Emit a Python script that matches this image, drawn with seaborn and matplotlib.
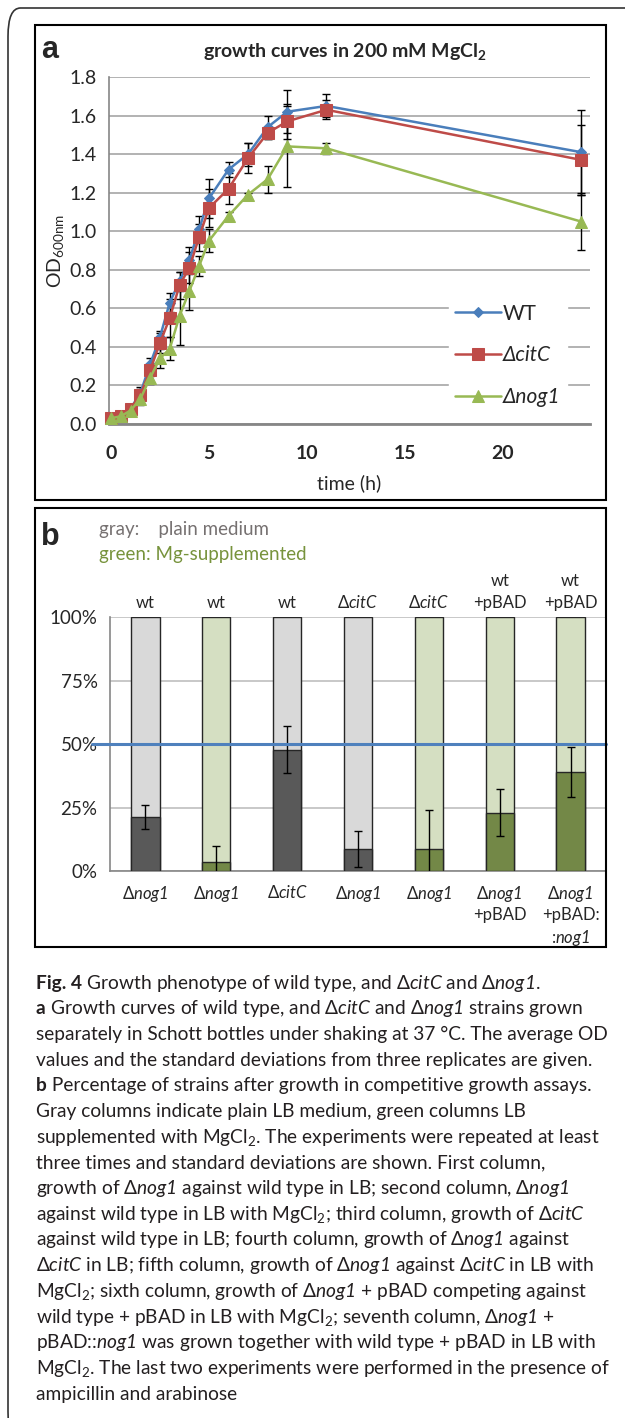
import matplotlib
matplotlib.use("Agg")
import matplotlib.pyplot as plt
from matplotlib.patches import Rectangle, FancyBboxPatch
import pandas as pd
import seaborn as sns

# ---- panel a: growth curves in 200 mM MgCl2 ----
TIME = [0, 0.5, 1, 1.5, 2, 2.5, 3, 3.5, 4, 4.5, 5, 6, 7, 8, 9, 11, 24]
OD_WT = [0.03, 0.04, 0.08, 0.16, 0.31, 0.45, 0.63, 0.74, 0.85, 1.01, 1.17, 1.32, 1.40, 1.54, 1.62, 1.65, 1.41]
OD_CITC = [0.03, 0.04, 0.08, 0.15, 0.28, 0.42, 0.55, 0.72, 0.81, 0.97, 1.12, 1.22, 1.38, 1.51, 1.57, 1.63, 1.37]
OD_NOG1 = [0.03, 0.04, 0.07, 0.13, 0.24, 0.34, 0.39, 0.56, 0.69, 0.82, 0.95, 1.08, 1.19, 1.27, 1.44, 1.43, 1.05]
ERR_WT = [0.01, 0.01, 0.02, 0.03, 0.03, 0.03, 0.05, 0.05, 0.07, 0.07, 0.10, 0.04, 0.06, 0.06, 0.11, 0.06, 0.22]
ERR_CITC = [0.01, 0.01, 0.02, 0.03, 0.03, 0.05, 0.10, 0.07, 0.08, 0.07, 0.10, 0.08, 0.08, 0.03, 0.09, 0.05, 0.18]
ERR_NOG1 = [0.01, 0.01, 0.02, 0.03, 0.03, 0.05, 0.06, 0.15, 0.10, 0.05, 0.06, 0.02, 0.01, 0.07, 0.21, 0.03, 0.15]
STRAINS = ["WT", "ΔcitC", "Δnog1"]

# ---- panel b: competitive growth ----
COL_IDS = ["1", "2", "3", "4", "5", "6", "7"]
TOP_LABELS = ["wt", "wt", "wt", "Δ$\\mathsf{citC}$", "Δ$\\mathsf{citC}$", "wt\n+pBAD", "wt\n+pBAD"]
BOTTOM_LABELS = ["Δ$\\mathsf{nog1}$", "Δ$\\mathsf{nog1}$", "Δ$\\mathsf{citC}$", "Δ$\\mathsf{nog1}$",
                 "Δ$\\mathsf{nog1}$", "Δ$\\mathsf{nog1}$\n+pBAD", "Δ$\\mathsf{nog1}$\n+pBAD:\n:$\\mathsf{nog1}$"]
MEDIUM = ["plain", "Mg", "plain", "plain", "Mg", "Mg", "Mg"]
PCT = [21.2, 3.5, 47.8, 8.5, 8.8, 23, 39]
PCT_ERR = [4.6, 6.2, 9.2, 7.1, 15.2, 9.4, 10]
PCT_TICKS = [0, 25, 50, 75, 100]

# caption: (bold lead, rest of line)
CAPTION = [
    ("Fig. 4", r" Growth phenotype of wild type, and Δ$\mathsf{citC}$ and Δ$\mathsf{nog1}$."),
    ("a", r" Growth curves of wild type, and Δ$\mathsf{citC}$ and Δ$\mathsf{nog1}$ strains grown"),
    ("", "separately in Schott bottles under shaking at 37 °C. The average OD"),
    ("", "values and the standard deviations from three replicates are given."),
    ("b", " Percentage of strains after growth in competitive growth assays."),
    ("", "Gray columns indicate plain LB medium, green columns LB"),
    ("", r"supplemented with MgCl$_2$. The experiments were repeated at least"),
    ("", "three times and standard deviations are shown. First column,"),
    ("", r"growth of Δ$\mathsf{nog1}$ against wild type in LB; second column, Δ$\mathsf{nog1}$"),
    ("", r"against wild type in LB with MgCl$_2$; third column, growth of Δ$\mathsf{citC}$"),
    ("", r"against wild type in LB; fourth column, growth of Δ$\mathsf{nog1}$ against"),
    ("", r"Δ$\mathsf{citC}$ in LB; fifth column, growth of Δ$\mathsf{nog1}$ against Δ$\mathsf{citC}$ in LB with"),
    ("", r"MgCl$_2$; sixth column, growth of Δ$\mathsf{nog1}$ + pBAD competing against"),
    ("", r"wild type + pBAD in LB with MgCl$_2$; seventh column, Δ$\mathsf{nog1}$ +"),
    ("", r"pBAD::$\mathsf{nog1}$ was grown together with wild type + pBAD in LB with"),
    ("", r"MgCl$_2$. The last two experiments were performed in the presence of"),
    ("", "ampicillin and arabinose"),
]

sns.set_style("white")
plt.rcParams["font.family"] = ["Lato", "DejaVu Sans"]
plt.rcParams["mathtext.fontset"] = "custom"
plt.rcParams["mathtext.rm"] = "Lato"
plt.rcParams["mathtext.it"] = "Lato:italic"
plt.rcParams["mathtext.sf"] = "Lato:italic"   # italic incl. digits
plt.rcParams["mathtext.bf"] = "Lato:bold"

W, H = 625, 1418
fig = plt.figure(figsize=(W / 100, H / 100), dpi=100)


def fx(x):
    return x / W


def fy(y):
    return 1 - y / H


def box(x0, y0, x1, y1, lw=1.5):
    fig.patches.append(Rectangle((fx(x0), fy(y1)), fx(x1 - x0), (y1 - y0) / H,
                                 transform=fig.transFigure, fill=False, lw=lw, ec="black"))


# outer frame and panel frames
fig.patches.append(FancyBboxPatch((fx(8), fy(1440)), fx(700), 1432 / H,
                                  boxstyle="round,pad=0,rounding_size=0.02",
                                  transform=fig.transFigure, fill=False, lw=1.2, ec="#333333"))
box(35, 25, 606, 500)
box(35, 508, 606, 947)

# ---------- panel a ----------
axa = fig.add_axes([fx(109), fy(424), fx(590 - 109), (424 - 77) / H])
colors = {"WT": "#4A7EBB", "ΔcitC": "#BE4B48", "Δnog1": "#98B954"}
markers = {"WT": ("D", 5.5), "ΔcitC": ("s", 8), "Δnog1": ("^", 8)}
series = {"WT": (OD_WT, ERR_WT), "ΔcitC": (OD_CITC, ERR_CITC), "Δnog1": (OD_NOG1, ERR_NOG1)}

for s in STRAINS:
    od, err = series[s]
    axa.errorbar(TIME, od, yerr=err, fmt="none", ecolor="black", elinewidth=1,
                 capsize=3, capthick=1, zorder=2)
for s in STRAINS:
    od, err = series[s]
    m, ms = markers[s]
    sns.lineplot(x=TIME, y=od, ax=axa, color=colors[s], lw=1.8, marker=m, markersize=ms,
                 markeredgecolor=colors[s], label=s, zorder=3, clip_on=False)

axa.set_xlim(-0.1, 24.45)
axa.set_ylim(0, 1.8)
axa.set_xticks([0, 5, 10, 15, 20])
axa.set_yticks([0, 0.2, 0.4, 0.6, 0.8, 1.0, 1.2, 1.4, 1.6, 1.8])
axa.set_yticklabels([f"{v:.1f}" for v in axa.get_yticks()], fontsize=14)
axa.set_xticklabels(["0", "5", "10", "15", "20"], fontsize=14, fontweight="bold")
axa.yaxis.grid(True, color="#A6A6A6", lw=1.2)
axa.set_axisbelow(True)
for sp in ["top", "right"]:
    axa.spines[sp].set_visible(False)
axa.spines["left"].set_color("#868686")
axa.spines["left"].set_linewidth(1.2)
axa.spines["bottom"].set_color("#868686")
axa.spines["bottom"].set_linewidth(2)
axa.tick_params(axis="y", direction="out", length=5, color="#868686", pad=4)
axa.tick_params(axis="x", direction="out", length=5, color="#868686", pad=10)
axa.set_xlabel("time (h)", fontsize=14, labelpad=9)
axa.set_ylabel(r"OD$_\mathrm{600nm}$", fontsize=14, labelpad=2)

leg = axa.legend(loc="upper left", bbox_to_anchor=(0.685, 0.395), frameon=True, fontsize=15,
                 handlelength=2.2, handletextpad=0.1, labelspacing=1.05, borderpad=0.3)
leg.get_frame().set_facecolor("white")
leg.get_frame().set_edgecolor("white")
leg.get_frame().set_alpha(1)
for t in leg.get_texts()[1:]:
    t.set_fontstyle("italic")

fig.text(fx(345), fy(52), r"growth curves in 200 mM MgCl$_\mathbf{2}$", ha="center", va="center",
         fontsize=14, fontweight="bold")
fig.text(fx(41), fy(50), "a", ha="left", va="center", fontsize=22, fontweight="bold",
         family="Liberation Sans")

# ---------- panel b ----------
axb = fig.add_axes([fx(110), fy(871), fx(606 - 110), (871 - 617) / H])
df_b = pd.DataFrame({"col": COL_IDS, "medium": MEDIUM, "pct": PCT, "full": [100] * len(PCT)})
sns.barplot(data=df_b, x="col", y="full", hue="medium", order=COL_IDS, dodge=False, width=0.4,
            palette={"plain": "#D9D9D9", "Mg": "#D7E4BD"}, edgecolor="#262626", linewidth=1,
            errorbar=None, legend=False, ax=axb, zorder=2)
sns.barplot(data=df_b, x="col", y="pct", hue="medium", order=COL_IDS, dodge=False, width=0.4,
            palette={"plain": "#595959", "Mg": "#77933C"}, edgecolor="#262626", linewidth=1,
            errorbar=None, legend=False, ax=axb, zorder=3)
axb.errorbar(range(len(PCT)), PCT, yerr=PCT_ERR, fmt="none", ecolor="black", elinewidth=1,
             capsize=3, capthick=1, zorder=4)
axb.axhline(50, xmin=-0.037, xmax=1, color="#4F81BD", lw=2.2, clip_on=False, zorder=6)

axb.set_xlim(-0.5, 6.5)
axb.set_ylim(0, 100)
axb.set_yticks(PCT_TICKS)
axb.set_yticklabels([f"{v}%" for v in PCT_TICKS], fontsize=13.5)
axb.set_xticks(range(len(BOTTOM_LABELS)))
axb.set_xticklabels(BOTTOM_LABELS, fontsize=12, va="top", linespacing=1.3)
axb.set_xticks([i - 0.5 for i in range(len(PCT) + 1)], minor=True)
axb.tick_params(axis="x", which="major", length=0, pad=9)
axb.tick_params(axis="x", which="minor", length=5, direction="out", color="#868686")
axb.tick_params(axis="y", length=5, direction="out", color="#868686", pad=4)
axb.yaxis.grid(True, color="#BFBFBF", lw=1.2)
axb.set_axisbelow(True)
axb.set_xlabel("")
axb.set_ylabel("")
for sp in ["top", "right"]:
    axb.spines[sp].set_visible(False)
axb.spines["left"].set_color("#868686")
axb.spines["bottom"].set_color("#868686")
axb.spines["left"].set_linewidth(1.2)
axb.spines["bottom"].set_linewidth(1.2)

for i, lab in enumerate(TOP_LABELS):
    axb.text(i, 102.5, lab, ha="center", va="bottom", fontsize=12, linespacing=1.45)

fig.text(fx(41), fy(537), "b", ha="left", va="center", fontsize=22, fontweight="bold",
         family="Liberation Sans")
fig.text(fx(99), fy(529), "gray:    plain medium", ha="left", va="center", fontsize=13.5, color="#767171")
fig.text(fx(99), fy(554), "green: Mg-supplemented", ha="left", va="center", fontsize=13.5, color="#77933C")

# ---------- caption ----------
renderer = fig.canvas.get_renderer()
for k, (lead, rest) in enumerate(CAPTION):
    y = fy(983 + k * 25.7)
    x = fx(36)
    if lead:
        t = fig.text(x, y, lead, ha="left", va="center", fontsize=13.8, fontweight="bold",
                     color="#231F20")
        bb = t.get_window_extent(renderer=renderer)
        x = bb.x1 / W
    fig.text(x, y, rest, ha="left", va="center", fontsize=13.8, color="#231F20")

fig.savefig("out.png", dpi=100)
